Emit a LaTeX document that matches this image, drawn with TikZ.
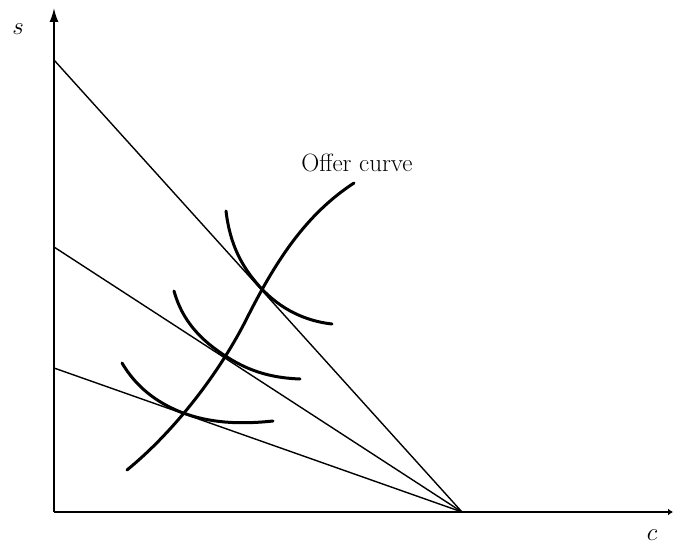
\documentclass[tikz,border=0pt]{standalone}
\usetikzlibrary{arrows.meta}
\begin{document}
\begin{tikzpicture}[x=1pt,y=-1pt,
  axis/.style={line width=1.8pt},
  budget/.style={line width=1.4pt},
  curvestyle/.style={line width=3pt, line cap=round},
  lbl/.style={inner sep=0pt, font=\fontsize{25}{28}\selectfont}]
\useasboundingbox (0,0) rectangle (674,545);
\coordinate (O) at (54,512);
\coordinate (ytop) at (54,8);
\coordinate (xend) at (673,512);
\coordinate (K) at (462,512);
\coordinate (A1) at (54,60);
\coordinate (A2) at (54,247);
\coordinate (A3) at (54,368);
\draw[axis,-{Latex[length=14pt,width=9pt]}] (O) -- (ytop);
\draw[axis,-{Latex[length=5pt,width=7pt]}] (O) -- (xend);
\draw[budget] (A1) -- (K);
\draw[budget] (A2) -- (K);
\draw[budget] (A3) -- (K);
% offer curve
\coordinate (oc0) at (127,470);
\coordinate (ocm) at (245,322);
\coordinate (oc1) at (354,183);
\draw[curvestyle] (oc0) .. controls (170,435) and (215,380) .. (ocm)
  .. controls (275,262) and (305,215) .. (oc1);
% indifference curves
\coordinate (t1) at (260,287);
\coordinate (t2) at (227,357);
\coordinate (t3) at (186,414);
\draw[curvestyle] (226,211) .. controls (230,245) and (242,267) .. (t1)
  .. controls (280,309) and (305,321) .. (332,324);
\draw[curvestyle] (174,291) .. controls (182,320) and (200,340) .. (t2)
  .. controls (252,373) and (275,378) .. (300,379);
\draw[curvestyle] (122,363) .. controls (135,385) and (155,403) .. (t3)
  .. controls (215,424) and (245,424) .. (273,421);
\node[lbl] (oc) at (357,163) {Offer curve};
\node[lbl] (s) at (18,29) {$s$};
\node[lbl] (c) at (652,535) {$c$};
\end{tikzpicture}
\end{document}
